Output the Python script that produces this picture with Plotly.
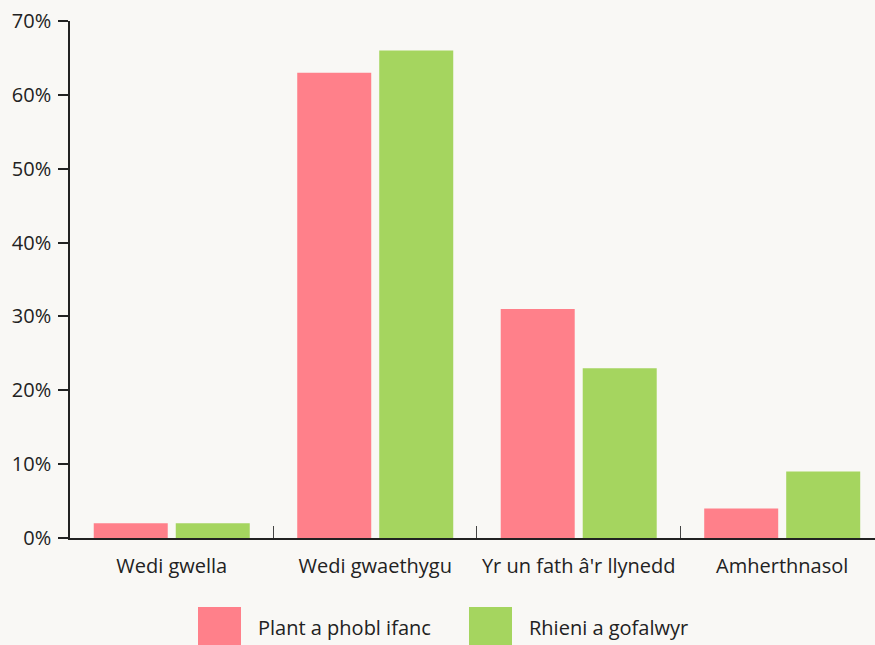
import plotly.graph_objects as go

categories = ["Wedi gwella", "Wedi gwaethygu", "Yr un fath â'r llynedd", "Amherthnasol"]
series_names = ["Plant a phobl ifanc", "Rhieni a gofalwyr"]
plant_values = [2, 63, 31, 4]
rhieni_values = [2, 66, 23, 9]
y_tick_values = [0, 10, 20, 30, 40, 50, 60, 70]
y_tick_labels = ["0%", "10%", "20%", "30%", "40%", "50%", "60%", "70%"]

PINK = "#FF808A"
GREEN = "#A5D55F"
BG = "#F9F8F5"
TXT = "#222222"
FONT = "Open Sans, Lato, sans-serif"
FS = 20

fig = go.Figure()
fig.add_trace(go.Bar(x=categories, y=plant_values, name=series_names[0],
                     marker=dict(color=PINK, line=dict(width=0))))
fig.add_trace(go.Bar(x=categories, y=rhieni_values, name=series_names[1],
                     marker=dict(color=GREEN, line=dict(width=0))))

W, H = 875, 645
ml, mr, mt, mb = 70, 0, 21, 107
pw = W - ml - mr
ph = H - mt - mb

def px_x(px):
    return (px - ml) / pw

def px_y(py):
    return (H - mb - py) / ph

fig.update_layout(
    width=W, height=H,
    margin=dict(l=ml, r=mr, t=mt, b=mb, pad=0),
    paper_bgcolor=BG, plot_bgcolor=BG,
    barmode="group", bargap=0.194, bargroupgap=0.0976,
    showlegend=False,
    font=dict(family=FONT, size=FS, color=TXT),
    xaxis=dict(
        type="category", range=[-0.5, 3.456],
        showline=True, linecolor="#222222", linewidth=1.5,
        ticks="inside", tickson="boundaries", ticklen=12, tickwidth=1,
        tickcolor="#444444", showgrid=False, zeroline=False,
        tickfont=dict(family=FONT, size=FS, color=TXT),
        ticklabelstandoff=9,
    ),
    yaxis=dict(
        range=[0, 70], tickvals=y_tick_values, ticktext=y_tick_labels,
        showline=True, linecolor="#222222", linewidth=1.5,
        ticks="outside", ticklen=10, tickwidth=1.5, tickcolor="#222222",
        showgrid=False, zeroline=False,
        tickfont=dict(family=FONT, size=FS, color=TXT),
        ticklabelstandoff=3,
    ),
)

# custom legend with large swatches
legend_items = [
    (198, 241, 256, PINK, series_names[0]),
    (469, 512, 527, GREEN, series_names[1]),
]
for x0, x1, tx, col, name in legend_items:
    fig.add_shape(type="rect", xref="paper", yref="paper",
                  x0=px_x(x0), x1=px_x(x1), y0=px_y(652), y1=px_y(607),
                  fillcolor=col, line=dict(width=0), layer="above")
    fig.add_annotation(xref="paper", yref="paper", x=px_x(tx), y=px_y(627),
                       text=name, showarrow=False, xanchor="left", yanchor="middle",
                       font=dict(family=FONT, size=FS, color=TXT))

fig.write_html(
    "out.html",
    config={"displayModeBar": False},
    post_script="document.body.style.margin='0';document.body.style.padding='0';"
                "document.body.style.overflow='hidden';"
                "document.body.style.background='" + BG + "';",
)
